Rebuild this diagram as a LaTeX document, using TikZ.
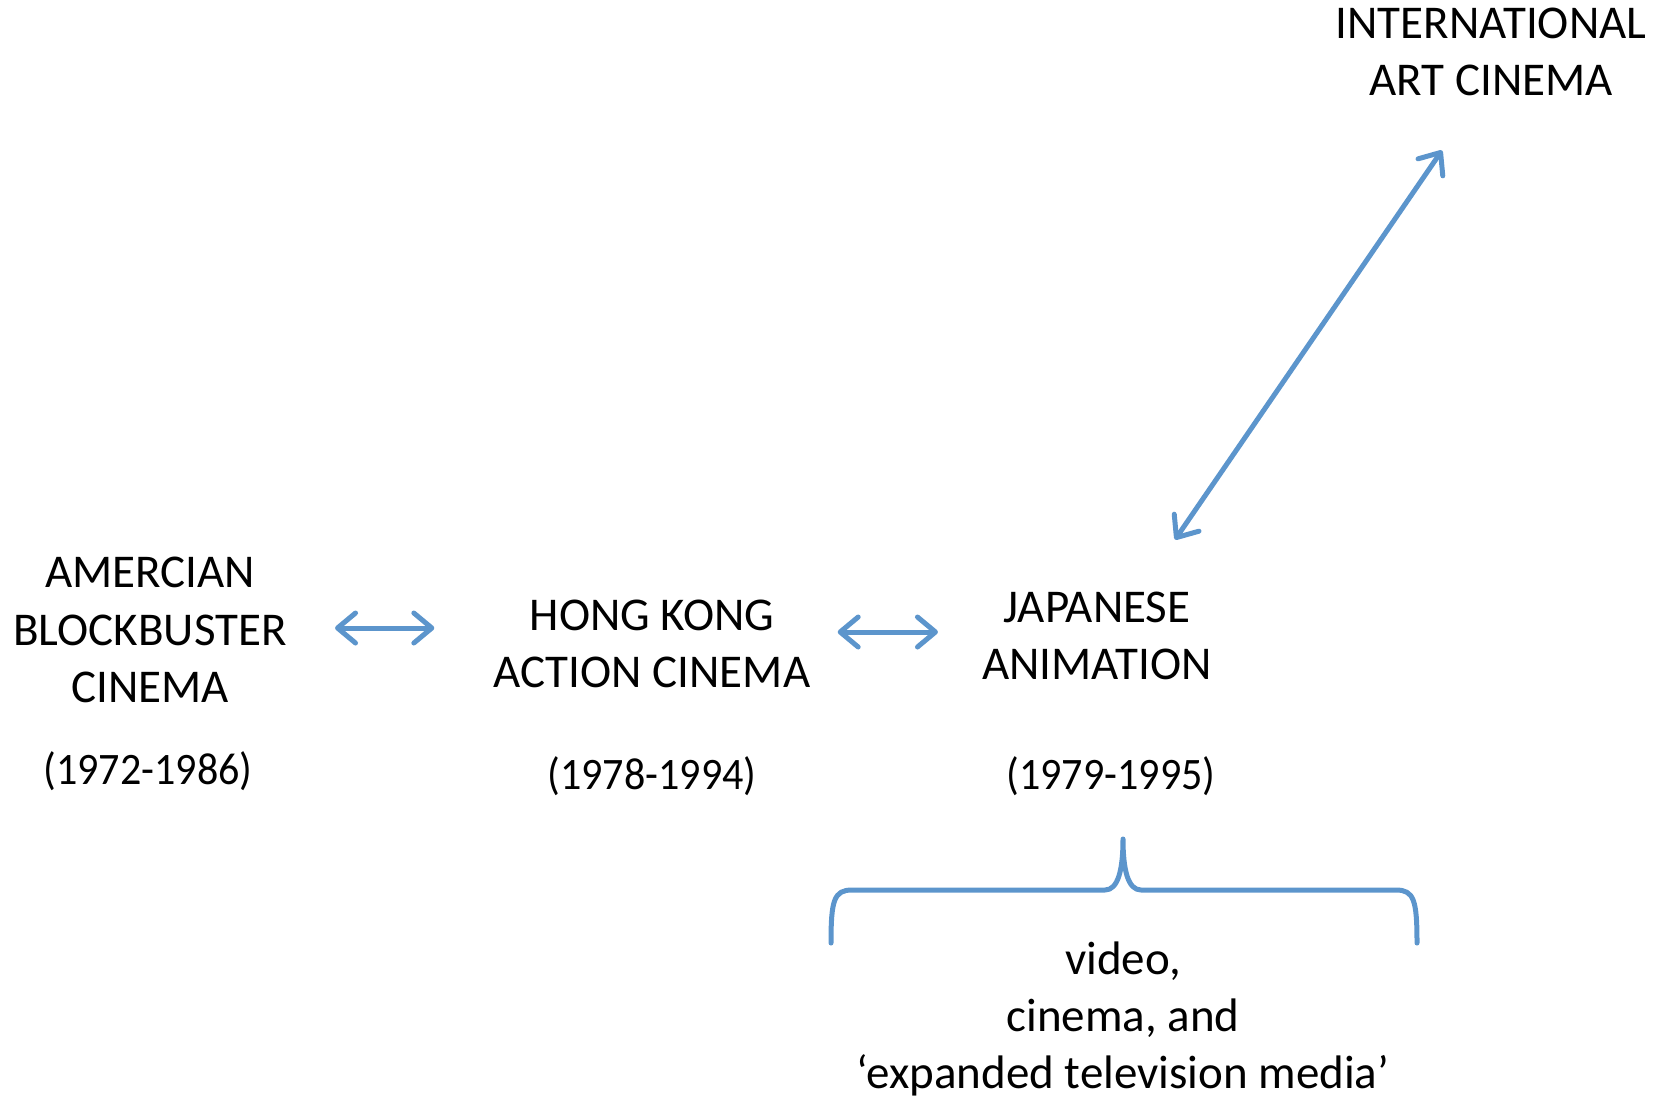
\documentclass[tikz,border=0pt]{standalone}
\usepackage{fontspec}
\setmainfont{Carlito}
\newfontfamily\datefont[FakeStretch=0.935]{Carlito}
\usetikzlibrary{arrows.meta,calc}
\definecolor{linkblue}{RGB}{92,149,204}

\begin{document}
\begin{tikzpicture}[x=0.5pt, y=-0.5pt,
every node/.style={font=\fontsize{23.5}{28.6}\selectfont, align=center, inner sep=0pt},
date/.style={font=\datefont\fontsize{22.5}{27}\selectfont},
>={Straight Barb[length=9pt,width=15pt,round]},
link/.style={<->, linkblue, line width=2.5pt, line cap=round}]
\useasboundingbox (0,0) rectangle (1665,1100);
\node (intl) at (1491,52) {INTERNATIONAL\\ART CINEMA};
\node (amer) at (150,630) {AMERCIAN\\BLOCKBUSTER\\CINEMA};
\node[date] (amerdate) at (148,771) {(1972-1986)};
\node (hk) at (652,644) {HONG KONG\\ACTION CINEMA};
\node[date] (hkdate) at (652,776) {(1978-1994)};
\node (jap) at (1097,636) {JAPANESE\\ANIMATION};
\node[date] (japdate) at (1111,776) {(1979-1995)};
\node (media) at (1123,1019) {video,\\cinema, and\\`expanded television media'};
\draw[link, shorten <=24pt, shorten >=29.5pt] (amer.east |- 0,628) -- (hk.west |- 0,628);
\draw[link, shorten <=13.5pt, shorten >=22pt] (hk.east |- 0,632) -- (jap.west |- 0,632);
\draw[link] ($(jap.north)+(78,-52)$) -- ($(intl.south)+(-49,54)$);
%\draw[link] (jap.north) -- (intl.south);
\draw[linkblue, line width=2.5pt, line cap=round, line join=round] (831,943) .. controls (831,900) and (834,890) .. (852,890) -- (1105,890) .. controls (1118,890) and (1123,870) .. (1123,839) .. controls (1123,870) and (1128,890) .. (1141,890) -- (1396,890) .. controls (1414,890) and (1417,900) .. (1417,943);
\end{tikzpicture}
\end{document}
